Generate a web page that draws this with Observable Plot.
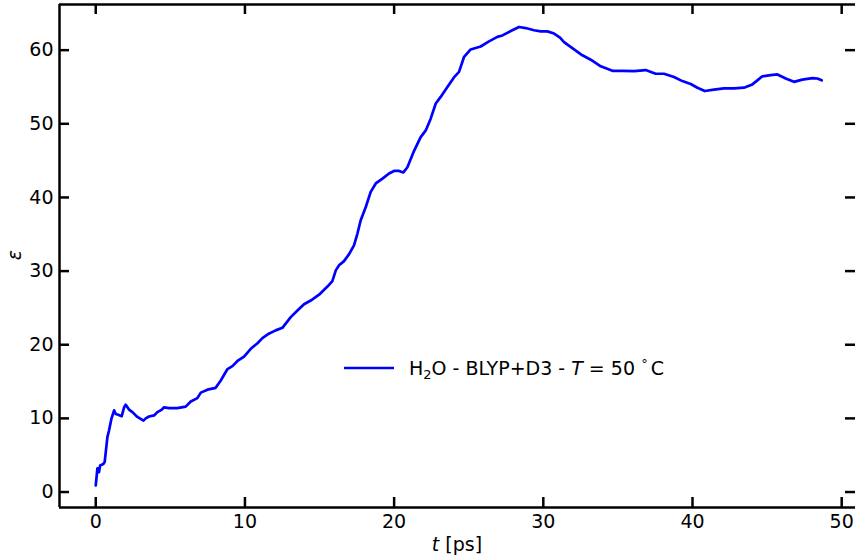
<!DOCTYPE html>
<html><head><meta charset="utf-8">
<script src="https://cdn.jsdelivr.net/npm/d3@7"></script>
<script src="https://cdn.jsdelivr.net/npm/@observablehq/plot@0.6"></script>
<style>
body{margin:0;background:#fff}
#chart svg{display:block;font-family:"DejaVu Sans",sans-serif}
</style>
</head><body><div id="chart"></div>
<script>
const time = [0.00,0.11,0.22,0.29,0.51,0.60,0.78,0.89,1.05,1.23,1.34,1.50,1.74,1.90,2.01,2.23,2.46,2.79,3.20,3.35,3.57,3.91,4.13,4.40,4.58,4.91,5.47,6.03,6.37,6.81,7.04,7.49,8.04,8.38,8.83,9.16,9.50,9.94,10.39,10.84,11.17,11.60,12.06,12.51,13.07,13.52,13.96,14.41,14.97,15.53,15.86,16.09,16.31,16.64,16.98,17.31,17.54,17.76,18.10,18.43,18.77,19.22,19.66,19.99,20.33,20.62,20.89,21.33,21.78,22.12,22.45,22.79,23.12,23.57,24.01,24.35,24.69,25.13,25.80,26.36,26.92,27.26,27.82,28.37,28.82,29.38,29.83,30.27,30.72,31.12,31.39,32.06,32.62,33.18,33.85,34.63,35.30,36.08,36.86,37.53,38.09,38.76,39.32,39.88,40.33,40.82,41.44,42.11,42.78,43.45,44.01,44.35,44.68,45.24,45.69,46.25,46.80,47.36,48.04,48.37,48.66];
const epsilon = [0.9,3.2,2.7,3.6,3.8,4.1,7.45,8.35,9.95,11.1,10.6,10.5,10.3,11.5,11.85,11.2,10.85,10.2,9.7,10.0,10.25,10.4,10.85,11.15,11.5,11.4,11.4,11.6,12.3,12.75,13.5,13.9,14.15,15.15,16.7,17.1,17.8,18.4,19.45,20.2,20.9,21.5,21.95,22.3,23.75,24.65,25.5,26.0,26.8,27.9,28.65,30.1,30.8,31.35,32.3,33.5,35.1,36.9,38.7,40.75,41.9,42.55,43.25,43.6,43.6,43.4,44.1,46.3,48.2,49.1,50.7,52.75,53.65,55.0,56.3,57.05,59.1,60.1,60.5,61.2,61.8,62.0,62.6,63.15,63.0,62.7,62.55,62.55,62.25,61.7,61.1,60.1,59.3,58.7,57.8,57.2,57.2,57.15,57.3,56.8,56.8,56.35,55.8,55.4,54.9,54.45,54.65,54.8,54.8,54.9,55.35,55.9,56.45,56.6,56.7,56.15,55.7,56.0,56.2,56.15,55.9];
const xTicks = [0,10,20,30,40,50];
const yTicks = [0,10,20,30,40,50,60];
const xDomain = [-2.43, 51.06];
const yDomain = [-2.1, 66.2];

const data = time.map((t, i) => ({t, e: epsilon[i]}));

const W = 855, H = 556, mL = 59, mR = 0, mT = 4, mB = 49;
const frameW = W - mL - mR, frameH = H - mT - mB;
const tick = 10, sw = 2.5, fs = 19;

const plot = Plot.plot({
  width: W, height: H,
  marginLeft: mL, marginRight: mR, marginTop: mT, marginBottom: mB,
  style: {fontFamily: "DejaVu Sans, sans-serif", fontSize: fs + "px", color: "black", background: "white", overflow: "hidden"},
  x: {domain: xDomain, range: [mL, 857]},
  y: {domain: yDomain, range: [H - mB, mT]},
  marks: [
    Plot.line(data, {x: "t", y: "e", stroke: "#0000ff", strokeWidth: 2.7, curve: "linear"}),
    // spines
    Plot.ruleX([xDomain[0]], {stroke: "black", strokeWidth: sw}),
    Plot.ruleY([yDomain[0], yDomain[1]], {stroke: "black", strokeWidth: sw}),
    // inward ticks
    Plot.ruleX(xTicks, {stroke: "black", strokeWidth: sw, insetTop: frameH - tick}),
    Plot.ruleX(xTicks, {stroke: "black", strokeWidth: sw, insetBottom: frameH - tick}),
    Plot.ruleY(yTicks, {stroke: "black", strokeWidth: sw, insetRight: frameW - tick}),
    Plot.ruleY(yTicks, {stroke: "black", strokeWidth: sw, insetLeft: frameW - tick}),
    // tick labels
    Plot.axisX({ticks: xTicks, anchor: "bottom", tickSize: 0, tickPadding: 7, label: null, fontSize: fs}),
    Plot.axisY({ticks: yTicks, anchor: "left", tickSize: 0, tickPadding: 6, label: null, fontSize: fs})
  ]
});

const svg = d3.select(plot);
// x label
const xl = svg.append("text").attr("x", 457).attr("y", 551).attr("text-anchor", "middle")
  .attr("font-size", fs).attr("fill", "black");
xl.append("tspan").attr("font-style", "italic").text("t");
xl.append("tspan").text(" [ps]");
// y label
svg.append("text").attr("transform", "translate(21,255) rotate(-90)").attr("text-anchor", "middle")
  .attr("font-size", fs).attr("font-style", "italic").attr("fill", "black").text("ε");
// legend
svg.append("line").attr("x1", 344).attr("x2", 394).attr("y1", 368).attr("y2", 368)
  .attr("stroke", "#0000ff").attr("stroke-width", 2.7);
const lg = svg.append("text").attr("x", 409).attr("y", 375).attr("text-anchor", "start")
  .attr("font-size", fs).attr("fill", "black");
lg.append("tspan").text("H");
lg.append("tspan").attr("font-size", 13).attr("dy", 4).text("2");
lg.append("tspan").attr("dy", -4).text("O - BLYP+D3 - ");
lg.append("tspan").attr("font-style", "italic").text("T");
lg.append("tspan").text(" = 50");
lg.append("tspan").attr("font-size", 13).attr("dy", -7).attr("dx", 2).text(" °");
lg.append("tspan").attr("dy", 7).attr("dx", 3).text("C");

document.getElementById("chart").append(plot);
</script>
</body></html>
